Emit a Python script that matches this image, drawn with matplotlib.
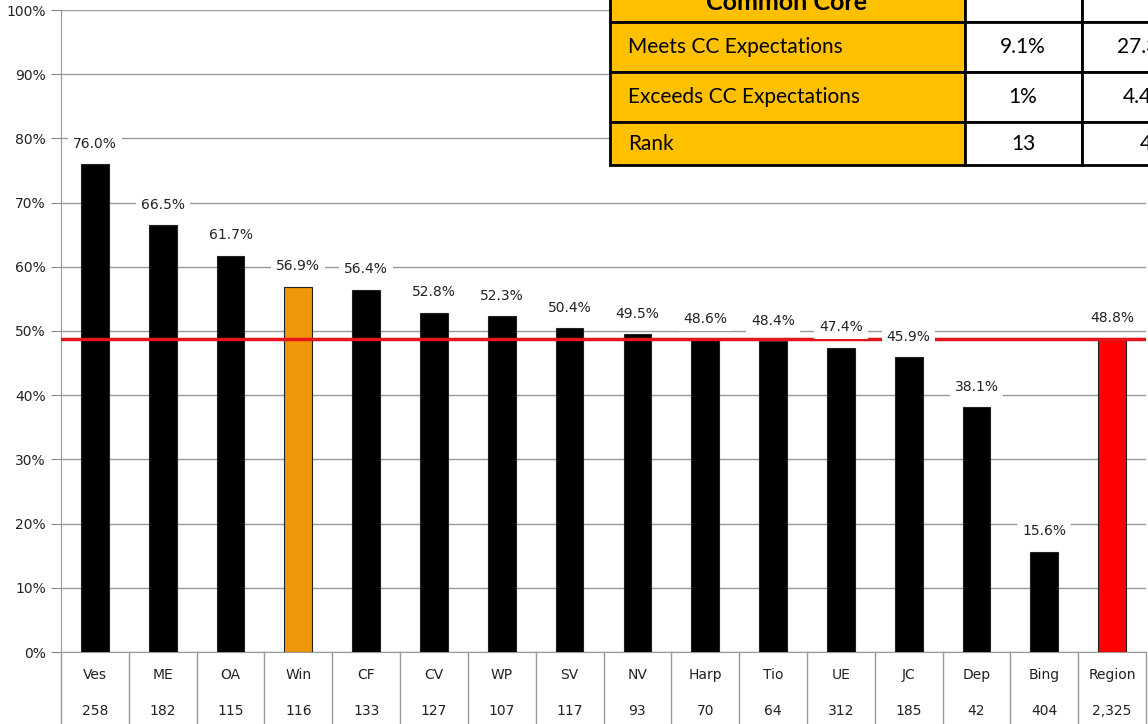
import matplotlib.pyplot as plt
from matplotlib.patches import Rectangle
from matplotlib.ticker import PercentFormatter

##### data
schools = ["Ves", "ME", "OA", "Win", "CF", "CV", "WP", "SV", "NV", "Harp",
           "Tio", "UE", "JC", "Dep", "Bing", "Region"]
counts = ["258", "182", "115", "116", "133", "127", "107", "117", "93", "70",
          "64", "312", "185", "42", "404", "2,325"]
pct = [76.0, 66.5, 61.7, 56.9, 56.4, 52.8, 52.3, 50.4, 49.5, 48.6,
       48.4, 47.4, 45.9, 38.1, 15.6, 48.8]
region_avg = 48.8

cc_rows = ["Meets CC Expectations", "Exceeds CC Expectations", "Rank"]
cc_col1 = ["9.1%", "1%", "13"]
cc_col2 = ["27.3%", "4.4%", "4"]

W, H = 1148, 724
fig = plt.figure(figsize=(W / 100, H / 100), dpi=100)
ax = fig.add_axes([61 / W, 1 - 652 / H, (1146 - 61) / W, (652 - 10) / H])

colors = ["black"] * len(schools)
colors[schools.index("Win")] = "#F0960A"
colors[-1] = "#FF0000"

x = range(len(schools))
ax.bar(x, pct, width=0.41, color=colors, edgecolor="#222222", linewidth=0.8, zorder=3)
ax.axhline(region_avg, color="#E8141C", lw=2.5, zorder=4)

for i, v in enumerate(pct):
    ax.text(i, v + 3.2, f"{v:.1f}%", ha="center", va="center", fontsize=10,
            color="#222222", zorder=5,
            bbox=dict(boxstyle="square,pad=0.35", fc="white", ec="none"))

ax.set_xlim(-0.5, len(schools) - 0.5)
ax.set_ylim(0, 100)
ax.set_yticks(range(0, 101, 10))
ax.yaxis.set_major_formatter(PercentFormatter(decimals=0))
ax.tick_params(axis="y", length=7, color="#888888", labelsize=10, pad=4, labelcolor="#222222")
ax.set_xticks([])
ax.grid(axis="y", color="#999999", lw=1, zorder=0)
for s in ["top", "right"]:
    ax.spines[s].set_visible(False)
ax.spines["left"].set_color("#999999")
ax.spines["bottom"].set_color("#999999")

# category table under the axis
tr = ax.get_xaxis_transform()
for i, (name, n) in enumerate(zip(schools, counts)):
    ax.text(i, -0.036, name, transform=tr, ha="center", va="center", fontsize=10, color="#222222")
    ax.text(i, -0.092, n, transform=tr, ha="center", va="center", fontsize=10, color="#222222")
for b in range(len(schools) + 1):
    ax.plot([b - 0.5, b - 0.5], [0, -0.2], transform=tr, color="#999999", lw=1, clip_on=False)

# Common Core table, top right
def fx(px):
    return px / W

def fy(py):
    return 1 - py / H

col_edges = [610, 965, 1082, 1200]
row_edges = [-30, 22, 72, 122, 165]
for r in range(len(row_edges) - 1):
    for c in range(len(col_edges) - 1):
        fc = "#FFC000" if c == 0 else "white"
        fig.add_artist(Rectangle((fx(col_edges[c]), fy(row_edges[r + 1])),
                                 fx(col_edges[c + 1] - col_edges[c]),
                                 (row_edges[r + 1] - row_edges[r]) / H,
                                 transform=fig.transFigure, fc=fc, ec="black", lw=2, zorder=10))

fig.text(fx(787), fy(2), "Common Core", ha="center", va="center", fontsize=18,
         fontweight="bold", family="Lato", zorder=11)
for r, (lab, a, b) in enumerate(zip(cc_rows, cc_col1, cc_col2)):
    yc = fy((row_edges[r + 1] + row_edges[r + 2]) / 2)
    fig.text(fx(628), yc, lab, ha="left", va="center", fontsize=15, family="Lato", zorder=11)
    fig.text(fx(1023), yc, a, ha="center", va="center", fontsize=15, family="Lato", zorder=11)
    fig.text(fx(1146), yc, b, ha="center", va="center", fontsize=15, family="Lato", zorder=11)

plt.savefig("out.png", dpi=100)
